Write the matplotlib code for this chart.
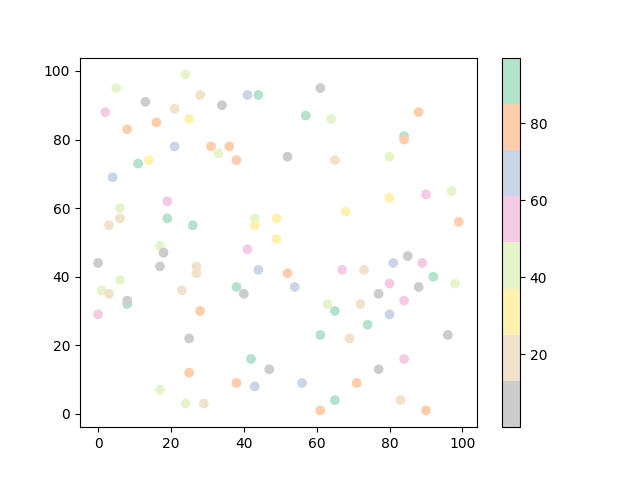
import matplotlib
matplotlib.use("Agg")
import matplotlib.pyplot as plt

# colour values per band of Pastel2_r: gray ~7, beige ~19, yellow ~31, green ~43,
# pink ~55, blue ~67, orange ~79, teal ~91
x = [24, 5, 13, 28, 41, 44, 34, 2, 21, 25, 8, 16, 21, 31, 36, 33, 38, 11, 14, 4,
     19, 6, 6, 3, 19, 26, 43, 43, 49, 49, 17, 41,
     61, 57, 64, 88, 84, 84, 52, 65, 80, 90, 97, 80, 68, 99,
     18, 0, 17, 27, 27, 44, 6, 1, 3, 8, 8, 0, 23, 28, 38, 40, 25, 42, 47, 25,
     38, 43, 17, 24, 29,
     85, 81, 89, 52, 67, 73, 92, 98, 54, 80, 88, 77, 84, 63, 65, 72, 80, 74, 61,
     69, 96, 84, 77, 56, 71, 65, 83, 61, 90]
y = [99, 95, 91, 93, 93, 93, 90, 88, 89, 86, 83, 85, 78, 78, 78, 76, 74, 73, 74, 69,
     62, 60, 57, 55, 57, 55, 57, 55, 57, 51, 49, 48,
     95, 87, 86, 88, 81, 80, 75, 74, 75, 64, 65, 63, 59, 56,
     47, 44, 43, 43, 41, 42, 39, 36, 35, 32, 33, 29, 36, 30, 37, 35, 22, 16, 13, 12,
     9, 8, 7, 3, 3,
     46, 44, 44, 41, 42, 42, 40, 38, 37, 38, 37, 35, 33, 32, 30, 32, 29, 26, 23,
     22, 23, 16, 13, 9, 9, 4, 4, 1, 1]
c = [43, 43, 7, 19, 67, 91, 7, 55, 19, 31, 79, 79, 67, 79, 79, 43, 79, 91, 31, 67,
     55, 43, 19, 19, 91, 91, 43, 31, 31, 31, 43, 55,
     7, 91, 43, 79, 97, 79, 7, 19, 43, 55, 43, 31, 31, 79,
     7, 1, 7, 19, 19, 67, 43, 43, 19, 91, 7, 55, 19, 79, 91, 7, 7, 91, 7, 79,
     79, 67, 43, 43, 19,
     7, 67, 55, 79, 55, 19, 91, 43, 67, 55, 7, 7, 55, 43, 91, 19, 67, 91, 91,
     19, 7, 55, 7, 67, 79, 91, 19, 79, 79]

fig, ax = plt.subplots(figsize=(6.4, 4.8), dpi=100)
sc = ax.scatter(x, y, c=c, cmap="Pastel2_r")
fig.colorbar(sc)

fig.savefig("out.png")
